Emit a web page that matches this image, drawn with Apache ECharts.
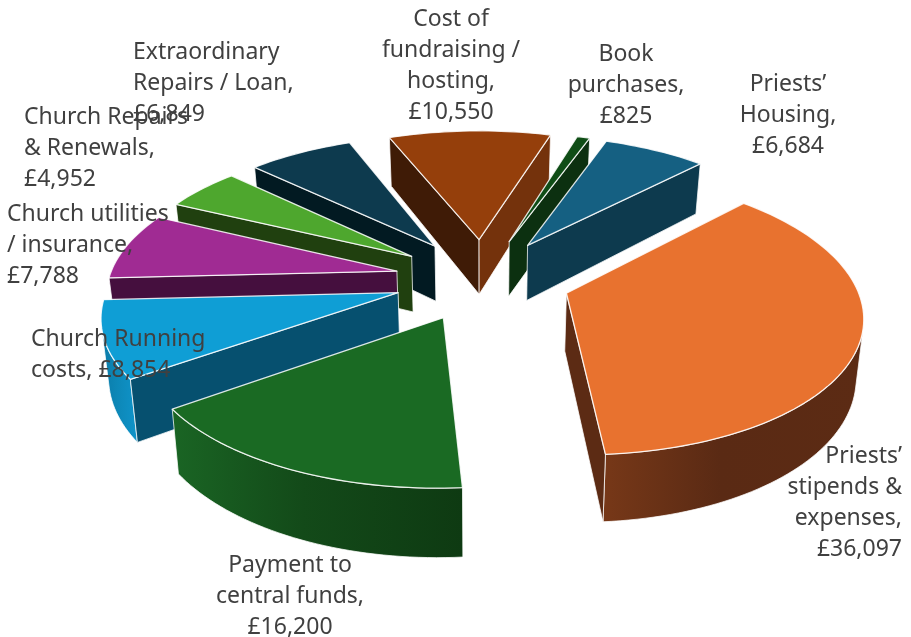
<!DOCTYPE html>
<html><head><meta charset="utf-8">
<style>html,body{margin:0;padding:0;background:#fff}#c{width:911px;height:637px}</style>
<script src="https://cdn.jsdelivr.net/npm/echarts@6/dist/echarts.min.js"></script>
</head><body><div id="c"></div>
<script>
const categories = ["Priests’ Housing","Priests’ stipends & expenses","Payment to central funds","Church Running costs","Church utilities / insurance","Church Repairs & Renewals","Extraordinary Repairs / Loan","Cost of fundraising / hosting","Book purchases"];
const values = [6684,36097,16200,8854,7788,4952,6849,10550,825];
const labelLines = [
  ["Priests’","Housing,","£6,684"],
  ["Priests’","stipends &","expenses,","£36,097"],
  ["Payment to","central funds,","£16,200"],
  ["Church Running","costs, £8,854"],
  ["Church utilities","/ insurance,","£7,788"],
  ["Church Repairs","& Renewals,","£4,952"],
  ["Extraordinary","Repairs / Loan,","£6,849"],
  ["Cost of","fundraising /","hosting,","£10,550"],
  ["Book","purchases,","£825"]
];

// styling and layout, separate from the data
const topColors  = ["#156082","#E8722F","#1A6A23","#0F9ED5","#A02B93","#4EA72E","#0D3A4E","#953F0B","#0F4D16"];
const startWall  = ["#0D3A4E","#5C2B14","#0E3A12","#06506F","#450F3E","#20400F","#021A22","#3F1B06","#0C3010"];
const endWall    = ["#0D3A4E","#5C2B14","#0E3A12","#06506F","#450F3E","#20400F","#021A22","#74320C","#0C3010"];
const arcStops   = [["#0D3A4E","#0D3A4E","#0D3A4E"],["#773818","#5A2A14","#5C2B14"],["#1A6524","#134A19","#0E3A12"],["#0B7BA8","#0D88B8","#0F94CA"],["#450F3E","#450F3E","#450F3E"],["#20400F","#20400F","#20400F"],["#021A22","#021A22","#021A22"],["#3F1B06","#3F1B06","#3F1B06"],["#0C3010","#0C3010","#0C3010"]];
const paintOrder = [7,8,0,6,5,4,3,2,1];
const labelAnchors = [[788,69,"center"],[902,441,"right"],[290,550,"center"],[31,324,"left"],[7,199,"left"],[24,102,"left"],[133,37,"left"],[451,4,"center"],[626,39,"center"]];

const firstSliceAngle = 19.9, cx = 482.5, horizonY = -674, H = 953, R = 288, p = 0.141, explode = 88, depth = 57, bottomScale = 0.98;
const total = values.reduce((a,b)=>a+b,0);
const rad = d => d*Math.PI/180;
function sliceAngles(i){
  let s = firstSliceAngle;
  for(let k=0;k<i;k++) s += values[k]/total*360;
  return [s, s + values[i]/total*360];
}
function topPt(X,Y){ const w = 1 - p*Y/R; return [cx + X/w, horizonY + H/w]; }
function botPt(X,Y){ const w = 1 - p*Y/R; return [cx + (X/w)*bottomScale, horizonY + (H+depth)/w]; }
function area(q){ let a=0; for(let i=0;i<q.length;i++){const u=q[i],v=q[(i+1)%q.length]; a+=u[0]*v[1]-v[0]*u[1];} return a; }
const edgeStroke = {stroke:"rgba(255,255,255,0.75)", lineWidth:1, lineJoin:"round"};

function renderSlice(params, api){
  const i = api.value(1);
  const [s,e] = sliceAngles(i);
  const mid = rad((s+e)/2);
  const ox = explode*Math.sin(mid), oy = -explode*Math.cos(mid);
  const at = th => [ox + R*Math.sin(rad(th)), oy - R*Math.cos(rad(th))];
  const n = Math.max(2, Math.ceil((e-s)/1.5));
  const arc = [];
  for(let k=0;k<=n;k++) arc.push(at(s+(e-s)*k/n));
  const A = [ox,oy];
  const children = [];
  const poly = (pts, fill, style) => children.push({type:"polygon", shape:{points:pts}, style:Object.assign({fill}, style||edgeStroke)});
  let run = [];
  const flush = () => {
    if(run.length>1){
      const t = run.map(q=>topPt(q[0],q[1])), b = run.map(q=>botPt(q[0],q[1])).reverse();
      poly(t.concat(b), new echarts.graphic.LinearGradient(0,0,1,0,[{offset:0,color:arcStops[i][0]},{offset:0.45,color:arcStops[i][1]},{offset:1,color:arcStops[i][2]}]));
    }
    run = [];
  };
  for(let k=0;k<n;k++){
    const q=[topPt(...arc[k]),topPt(...arc[k+1]),botPt(...arc[k+1]),botPt(...arc[k])];
    if(area(q)<0){ if(!run.length) run.push(arc[k]); run.push(arc[k+1]); } else flush();
  }
  flush();
  const wall = (u,v,col) => {
    const q=[topPt(...u),topPt(...v),botPt(...v),botPt(...u)];
    if(area(q)<0) poly(q,col);
  };
  wall(A,arc[0],startWall[i]);
  wall(arc[n],A,endWall[i]);
  poly([A].concat(arc).map(q=>topPt(q[0],q[1])), topColors[i], {stroke:"rgba(255,255,255,0.85)",lineWidth:1.3,lineJoin:"round"});
  return {type:"group", children};
}
function renderLabel(params, api){
  const i = api.value(1), a = labelAnchors[i];
  return {type:"text", z2:100, style:{x:a[0], y:a[1], text:labelLines[i].join("\n"), align:a[2], verticalAlign:"top",
    fill:"#404040", font:'23px "Noto Sans"', lineHeight:31}};
}
const chart = echarts.init(document.getElementById("c"),null,{renderer:"canvas"});
chart.setOption({
  animation:false,
  backgroundColor:"#fff",
  series:[
    {type:"custom", name:"slices", coordinateSystem:"none", renderItem:renderSlice, silent:true, z:1,
     data:paintOrder.map(i=>({name:categories[i], value:[values[i],i]}))},
    {type:"custom", name:"labels", coordinateSystem:"none", renderItem:renderLabel, silent:true, z:2,
     data:categories.map((c,i)=>({name:c, value:[values[i],i]}))}
  ]
});
</script></body></html>
